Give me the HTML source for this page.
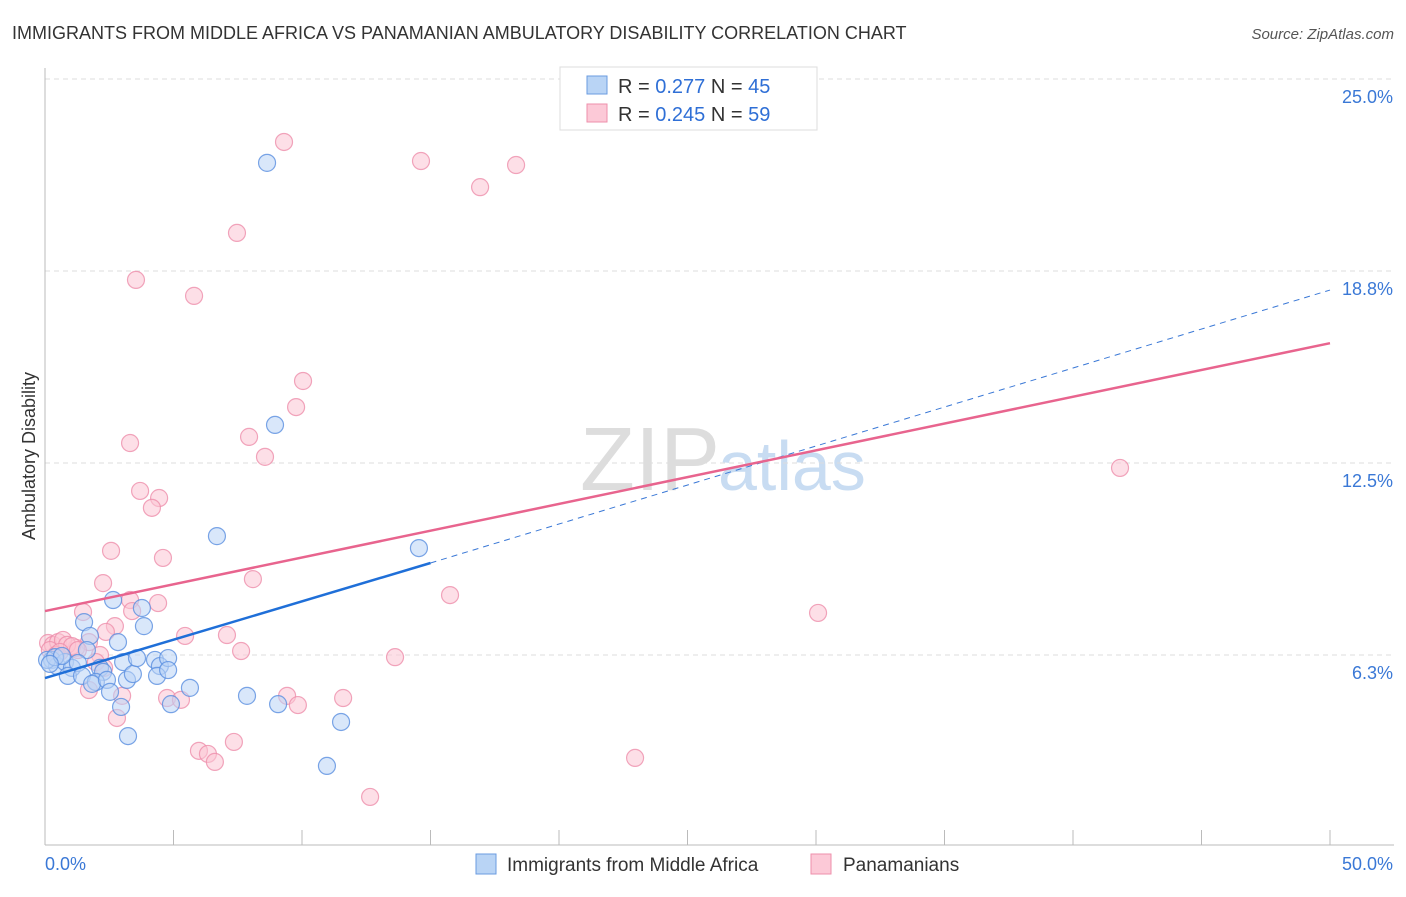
<!DOCTYPE html>
<html><head><meta charset="utf-8"><style>
body{margin:0;background:#fff;font-family:"Liberation Sans",sans-serif;}
svg text{font-family:"Liberation Sans",sans-serif;}
</style></head><body>
<svg width="1406" height="892" xmlns="http://www.w3.org/2000/svg" id="chart">
<text x="12" y="39" font-size="18" fill="#333">IMMIGRANTS FROM MIDDLE AFRICA VS PANAMANIAN AMBULATORY DISABILITY CORRELATION CHART</text>
<text x="1394" y="39" font-size="15" fill="#555" font-style="italic" text-anchor="end">Source: ZipAtlas.com</text>
<text x="35" y="456" font-size="18" fill="#333" transform="rotate(-90 35 456)" text-anchor="middle">Ambulatory Disability</text>
<text x="720" y="490" font-size="90" fill="#ddd" text-anchor="end" font-family="Liberation Serif">ZIP</text>
<text x="718" y="490" font-size="70" fill="#c8dcf2">atlas</text>
<g id="grid"></g><g id="axes"></g><g id="pts"></g><g id="lines"></g>
<g>
<rect x="560" y="67" width="257" height="63" fill="#fff" stroke="#ddd"/>
<rect x="587" y="76" width="20" height="18" fill="#b9d4f5" stroke="#6a9be0"/>
<rect x="587" y="104" width="20" height="18" fill="#fcc9d7" stroke="#ee8fab"/>
<text x="618" y="93" font-size="20" fill="#333">R = <tspan fill="#2f6fd6">0.277</tspan>   N = <tspan fill="#2f6fd6">45</tspan></text>
<text x="618" y="121" font-size="20" fill="#333">R = <tspan fill="#2f6fd6">0.245</tspan>   N = <tspan fill="#2f6fd6">59</tspan></text>
</g>
<g>
<rect x="476" y="854" width="20" height="20" fill="#b9d4f5" stroke="#6a9be0"/>
<text x="507" y="871" font-size="19" fill="#333">Immigrants from Middle Africa</text>
<rect x="811" y="854" width="20" height="20" fill="#fcc9d7" stroke="#ee8fab"/>
<text x="843" y="871" font-size="19" fill="#333">Panamanians</text>
</g>
</svg>
<script>
const yTicks=[6.25,12.5,18.75,25];
const yTickLabels=["6.3%","12.5%","18.8%","25.0%"];
const xTickLabels=["0.0%","50.0%"];
const bluePx=[[267,163],[275,425],[217,536],[419,548],[113,600],[142,608],[144,626],[84,622],[90,636],[118,642],[87,650],[52,660],[57,666],[65,662],[72,668],[78,663],[68,676],[82,676],[100,668],[103,672],[96,682],[92,684],[107,680],[110,692],[123,662],[127,680],[133,674],[137,658],[155,660],[160,666],[168,658],[157,676],[168,670],[190,688],[121,707],[128,736],[171,704],[247,696],[278,704],[341,722],[327,766],[47,660],[55,657],[62,656],[50,664]];
const pinkPx=[[284,142],[421,161],[516,165],[480,187],[237,233],[136,280],[194,296],[303,381],[296,407],[249,437],[265,457],[1120,468],[130,443],[140,491],[159,498],[152,508],[111,551],[163,558],[103,583],[253,579],[450,595],[818,613],[83,612],[158,603],[130,600],[132,611],[115,626],[106,632],[185,636],[227,635],[89,642],[76,648],[100,655],[241,651],[395,657],[48,643],[53,645],[58,642],[63,640],[67,645],[72,646],[78,650],[50,650],[56,655],[60,652],[96,662],[104,668],[89,690],[122,696],[167,698],[181,700],[287,696],[298,705],[343,698],[117,718],[199,751],[208,754],[215,762],[234,742],[370,797],[635,758]];
// data values (x %, y %) derived from reading the picture
const blueX=bluePx.map(p=>+((p[0]-45)/25.7).toFixed(2));
const blueY=bluePx.map(p=>+((847-p[1])/30.72).toFixed(2));
const pinkX=pinkPx.map(p=>+((p[0]-45)/25.7).toFixed(2));
const pinkY=pinkPx.map(p=>+((847-p[1])/30.72).toFixed(2));
const blueLine=[5.5,9.245,18.13]; // y at x=0, x=15, x=50
const pinkLine=[7.68,16.4]; // y at x=0, x=50
const sx=v=>45+v*25.7, sy=v=>847-v*30.72;
const NS="http://www.w3.org/2000/svg";
function mk(tag,attrs,parent){const e=document.createElementNS(NS,tag);for(const k in attrs)e.setAttribute(k,attrs[k]);document.getElementById(parent).appendChild(e);return e;}
yTicks.forEach((t,i)=>{
 const g=mk('line',{x1:45,x2:1394,y1:sy(t),y2:sy(t),stroke:'#ddd','stroke-dasharray':'5,4'},'grid');
 
 
 const l=mk('text',{x:1393,y:sy(t)+24,'font-size':18,fill:'#3a78d6','text-anchor':'end'},'grid');
 l.textContent=yTickLabels[i];
 
 
});
const ax=mk('line',{x1:45,x2:1394,y1:845,y2:845,stroke:'#bbb'},'axes');


const ay=mk('line',{x1:45,x2:45,y1:68,y2:845,stroke:'#bbb'},'axes');


for(let i=0;i<=10;i++){const t=mk('line',{x1:sx(i*5),x2:sx(i*5),y1:830,y2:845,stroke:'#bbb'},'axes');
 
 }
[[0,45,'start'],[1,1393,'end']].forEach(a=>{const t=mk('text',{x:a[1],y:870,'font-size':18,fill:'#3a78d6','text-anchor':a[2]},'axes');t.textContent=xTickLabels[a[0]];
 
 });
function dots(X,Y,fill,stroke,name){X.forEach((x,i)=>{const c=mk('circle',{cx:sx(x),cy:sy(Y[i]),r:8.5,fill:fill,'fill-opacity':0.55,stroke:stroke,'stroke-width':1.2,'stroke-opacity':0.8},'pts');
 
 });}
dots(pinkX,pinkY,'#fbc4d3','#ee8fab','panamanian-point');
dots(blueX,blueY,'#b9d4f5','#5a8ee0','middle-africa-point');
const bd=mk('line',{x1:sx(15),y1:sy(blueLine[1]),x2:sx(50),y2:sy(blueLine[2]),stroke:'#3a78d6','stroke-width':1,'stroke-dasharray':'6,5'},'lines');


const pl=mk('line',{x1:sx(0),y1:sy(pinkLine[0]),x2:sx(50),y2:sy(pinkLine[1]),stroke:'#e8648e','stroke-width':2.5},'lines');


const bl=mk('line',{x1:sx(0),y1:sy(blueLine[0]),x2:sx(15),y2:sy(blueLine[1]),stroke:'#1f6fd8','stroke-width':2.5},'lines');


</script>
</body></html>
